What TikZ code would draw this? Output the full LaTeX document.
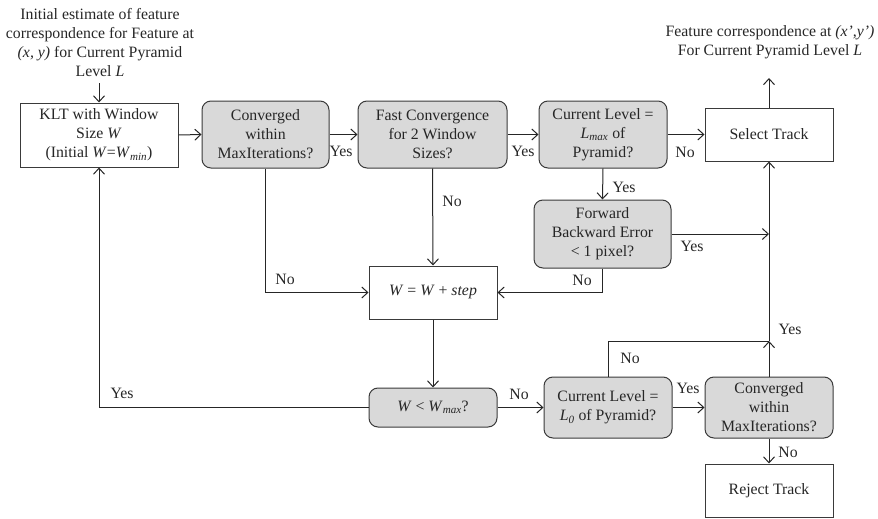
\documentclass[tikz,border=0pt]{standalone}
\usepackage{fontspec}
\setmainfont{Liberation Serif}
\usetikzlibrary{arrows.meta}
\definecolor{boxgray}{HTML}{D9D9D9}
\definecolor{edgegray}{HTML}{3A3A3A}
\begin{document}
\begin{tikzpicture}[x=1pt,y=-1pt,
  every node/.style={font=\fontsize{15.8}{19}\selectfont, text=black!85},
  plainbox/.style={draw=edgegray, line width=1pt, fill=white, align=center, inner sep=0pt},
  decbox/.style={draw=edgegray, line width=1pt, fill=boxgray, rounded corners=9pt, align=center, inner sep=0pt},
  lbl/.style={inner sep=1pt},
  free/.style={align=center, inner sep=0pt},
  arr/.style={-{Straight Barb[length=6pt,width=11pt]}, line width=1pt, draw=black!85},
  ln/.style={line width=1pt, draw=black!85}]
\useasboundingbox (0,0) rectangle (878,519);

% texts at the ends
\node[free] (start) at (100,43) {Initial estimate of feature\\correspondence for Feature at\\\textit{(x, y)} for Current Pyramid\\Level \textit{L}};
\node[free] (final) at (770,42) {Feature correspondence at \textit{(x’,y’)}\\For Current Pyramid Level \textit{L}};

% boxes
\node[plainbox, minimum width=158pt, minimum height=64pt] (klt) at (99,135) {KLT with Window\\Size \textit{W}\\(Initial \textit{W}=\textit{W}\textsubscript{\textit{min}})};
\node[decbox, minimum width=127pt, minimum height=67pt] (conv1) at (265.5,134.5) {Converged\\within\\MaxIterations?};
\node[decbox, minimum width=149pt, minimum height=67pt] (fast) at (432.5,134.5) {Fast Convergence\\for 2 Window\\Sizes?};
\node[decbox, minimum width=128pt, minimum height=67pt] (lmax) at (603,134.5) {Current Level =\\\textit{L}\textsubscript{\textit{max}} of\\Pyramid?};
\node[plainbox, minimum width=128pt, minimum height=53pt] (select) at (769,134.5) {Select Track};
\node[decbox, minimum width=137pt, minimum height=68pt] (fb) at (602.5,234) {Forward\\Backward Error\\< 1 pixel?};
\node[plainbox, minimum width=128pt, minimum height=53pt] (wstep) at (433,292.5) {\textit{W} = \textit{W} + \textit{step}};
\node[decbox, minimum width=128pt, minimum height=39pt] (wlt) at (433,407.5) {\textit{W} < \textit{W}\textsubscript{\textit{max}}?};
\node[decbox, minimum width=128pt, minimum height=61pt] (lzero) at (608,407.5) {Current Level =\\\textit{L}\textsubscript{\textit{0}} of Pyramid?};
\node[decbox, minimum width=128pt, minimum height=61pt] (conv2) at (769,407.5) {Converged\\within\\MaxIterations?};
\node[plainbox, minimum width=128pt, minimum height=53pt] (reject) at (769,490.5) {Reject Track};

% helper coordinates
\coordinate (kltin) at (99,83);
\coordinate (finalout) at (769,78);
\coordinate (jfb) at (769,234);
\coordinate (jl0) at (769,341);

% connectors
\draw[arr] (kltin) -- (klt.north);
\draw[arr] (klt.east) -- (conv1.west);
\draw[arr] (conv1.east) -- (fast.west);
\draw[arr] (fast.east) -- (lmax.west);
\draw[arr] (lmax.east) -- (select.west);
\draw[arr] (select.north) -- (finalout);
\draw[arr] (lmax.south) -- (fb.north);
\draw[arr] (fb.east) -- (jfb);
\draw[arr] (fb.south) |- (wstep.east);
\draw[arr] (conv1.south) |- (wstep.west);
\draw[arr] (fast.south) -- (wstep.north);
\draw[arr] (wstep.south) -- (wlt.north);
\draw[arr] (wlt.west) -| (klt.south);
\draw[arr] (wlt.east) -- (lzero.west);
\draw[arr] (lzero.east) -- (conv2.west);
\draw[ln] (lzero.north) |- (jl0);
\draw[arr] (conv2.north) -- (jl0);
\draw[arr] (jl0) -- (select.south);
\draw[arr] (conv2.south) -- (reject.north);

% labels
\node[lbl] (y1) at (341,151) {Yes};
\node[lbl] (y2) at (523,151) {Yes};
\node[lbl] (n1) at (685,152) {No};
\node[lbl] (y3) at (624,187) {Yes};
\node[lbl] (y4) at (692,246) {Yes};
\node[lbl] (n2) at (582,280) {No};
\node[lbl] (n3) at (285,279) {No};
\node[lbl] (n4) at (452,201) {No};
\node[lbl] (y5) at (122,393) {Yes};
\node[lbl] (n5) at (519,394) {No};
\node[lbl] (y6) at (688,388) {Yes};
\node[lbl] (n6) at (630,358) {No};
\node[lbl] (y7) at (790,329) {Yes};
\node[lbl] (n7) at (788,452) {No};
\end{tikzpicture}
\end{document}
